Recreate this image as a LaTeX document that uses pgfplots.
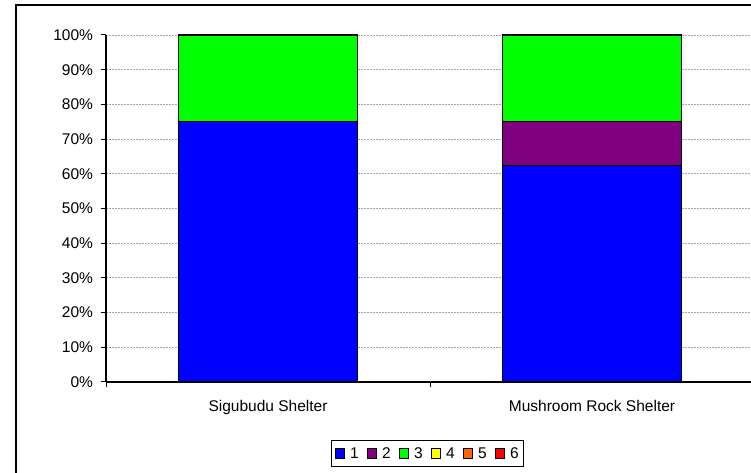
\documentclass[border=0pt]{standalone}
\usepackage{pgfplots}
\pgfplotsset{compat=1.18}
\usepackage{fontspec}
\setmainfont{Liberation Sans}

\definecolor{c1}{RGB}{0,0,255}
\definecolor{c2}{RGB}{128,0,128}
\definecolor{c3}{RGB}{0,255,0}
\definecolor{c4}{RGB}{255,255,0}
\definecolor{c5}{RGB}{255,102,0}
\definecolor{c6}{RGB}{255,0,0}

\pgfplotsset{
  sq/.style={legend image code/.code={
    \draw[##1,draw=black,line width=0.9pt,solid] (0pt,-4.7pt) rectangle (9.5pt,4.7pt);}},
}

\begin{document}
\begin{tikzpicture}[x=1pt,y=1pt]
\useasboundingbox (0,0) rectangle (751,473);
\clip (0,0) rectangle (751,473);
% outer chart frame
\draw[line width=1.3pt] (16,468) rectangle (800,-20);
\begin{axis}[
  at={(106pt,91pt)}, anchor=south west,
  scale only axis, width=648pt, height=347pt,
  xmin=0, xmax=2, ymin=0, ymax=100,
  ybar stacked, bar width=179pt,
  axis lines*=left,
  axis line style={line width=1.3pt},
  font=\fontsize{15.5}{18}\selectfont,
  /pgf/number format/assume math mode=true,
  ytick={0,10,...,100},
  yticklabel={\pgfmathprintnumber{\tick}\%},
  yticklabel style={xshift=-4pt},
  xtick={0.5,1.5},
  xticklabels={Sigubudu Shelter, Mushroom Rock Shelter},
  minor xtick={0,1,2},
  major x tick style={draw=none},
  tick align=outside,
  major tick length=5.5pt, minor tick length=5.5pt,
  tick style={black, line width=1pt},
  xticklabel style={yshift=-9pt},
  ymajorgrids,
  grid style={gray!70, dash pattern=on 2pt off 1pt, line width=0.8pt},
  every axis plot/.append style={draw=black, line width=1.2pt},
  legend columns=-1,
  legend style={at={(0.4965,-0.206)}, anchor=center, draw=black,
    line width=1pt, inner xsep=3pt, inner ysep=5pt,
    /tikz/every odd column/.append style={column sep=3pt},
    /tikz/every even column/.append style={column sep=6pt},
    font=\fontsize{15.5}{18}\selectfont},
]
\addplot[fill=c1, sq] coordinates {(0.5,75) (1.5,62.5)};
\addplot[fill=c2, sq] coordinates {(0.5,0) (1.5,12.5)};
\addplot[fill=c3, sq] coordinates {(0.5,25) (1.5,25)};
\addlegendentry{1}
\addlegendentry{2}
\addlegendentry{3}
\addlegendimage{sq, fill=c4}
\addlegendentry{4}
\addlegendimage{sq, fill=c5}
\addlegendentry{5}
\addlegendimage{sq, fill=c6}
\addlegendentry{6}
\end{axis}
\end{tikzpicture}
\end{document}
